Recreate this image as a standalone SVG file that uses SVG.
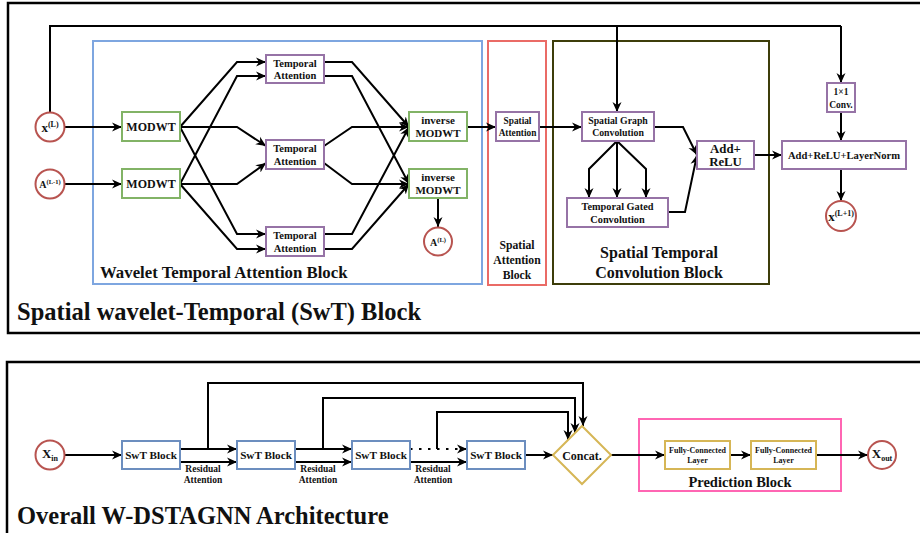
<svg xmlns="http://www.w3.org/2000/svg" width="920" height="533" viewBox="0 0 920 533">
<defs>
<marker id="arr" viewBox="0 0 10 10" markerWidth="10" markerHeight="10" refX="10" refY="5" orient="auto" markerUnits="userSpaceOnUse">
<path d="M0,0.5 L10,5 L0,9.5 L3,5 z" fill="#000"/>
</marker>
<style>
text{font-family:"Liberation Serif","Times New Roman",serif;font-weight:bold;fill:#111;text-anchor:middle}
.frame{fill:none;stroke:#000;stroke-width:2.5}
.c{fill:none;stroke:#000;stroke-width:2;marker-end:url(#arr)}
.cn{fill:none;stroke:#000;stroke-width:2}
.circ{fill:#fff;stroke:#b85450;stroke-width:2}
.green{fill:#fff;stroke:#82b366;stroke-width:2}
.purple{fill:#fff;stroke:#9673a6;stroke-width:2}
.blue{fill:#fff;stroke:#6c8ebf;stroke-width:2}
.gold{fill:#fff;stroke:#d6b656;stroke-width:2}
.title{font-size:24.5px;text-anchor:start}
</style>
</defs>
<rect width="920" height="533" fill="#fff"/>

<!-- panel frames -->
<rect class="frame" x="8" y="3" width="930" height="330"/>
<rect class="frame" x="7" y="362" width="930" height="200"/>

<!-- container blocks -->
<g id="wavelet-block">
<rect x="93" y="41" width="389" height="243" fill="none" stroke="#7ea6e0" stroke-width="2"/>
<text x="100" y="278" style="text-anchor:start;font-size:16.8px">Wavelet Temporal Attention Block</text>
</g>
<g id="spatial-attention-block">
<rect x="488" y="41" width="58" height="244" fill="none" stroke="#ea6b66" stroke-width="2"/>
<text x="517" y="249" font-size="11.7">Spatial</text>
<text x="517" y="264" font-size="11.7">Attention</text>
<text x="517" y="279" font-size="11.7">Block</text>
</g>
<g id="stconv-block">
<rect x="553" y="41" width="216" height="243" fill="none" stroke="#3d3d0a" stroke-width="2"/>
<text x="659" y="258" font-size="16">Spatial Temporal</text>
<text x="659" y="278" font-size="16">Convolution Block</text>
</g>
<g id="prediction-block">
<rect x="639" y="419" width="202" height="72" fill="none" stroke="#ff66b3" stroke-width="2"/>
<text x="740" y="487" font-size="14.5">Prediction Block</text>
</g>

<!-- connectors -->
<g id="connectors">
<!-- top panel -->
<polyline class="cn" points="50,113 50,26 841,26"/>
<polyline class="c" points="841,26 841,83"/>
<polyline class="c" points="617,26 617,112"/>
<line class="c" x1="65" y1="127" x2="122" y2="127"/>
<line class="c" x1="65" y1="184" x2="122" y2="184"/>
<!-- MODWT1 -->
<polyline class="c" points="180,127 237,62 266,62"/>
<polyline class="c" points="180,127 237,127 266,146"/>
<polyline class="c" points="180,127 237,234 266,234"/>
<!-- MODWT2 -->
<polyline class="c" points="180,184 237,76 266,76"/>
<polyline class="c" points="180,184 237,184 266,163"/>
<polyline class="c" points="180,184 237,249 266,249"/>
<!-- TA outputs -->
<polyline class="c" points="324,62 352,62 409,127"/>
<polyline class="c" points="324,76 352,76 409,184"/>
<polyline class="c" points="324,146 352,127 409,127"/>
<polyline class="c" points="324,163 352,184 409,184"/>
<polyline class="c" points="324,234 352,234 409,127"/>
<polyline class="c" points="324,249 352,249 409,184"/>
<line class="c" x1="438" y1="198" x2="438" y2="227"/>
<line class="c" x1="467" y1="127" x2="496" y2="127"/>
<line class="c" x1="539" y1="127" x2="582" y2="127"/>
<polyline class="c" points="617,141 589,169 589,198"/>
<line class="c" x1="617" y1="141" x2="617" y2="198"/>
<polyline class="c" points="617,141 646,169 646,198"/>
<polyline class="c" points="654,127 683,127 697,155"/>
<polyline class="c" points="668,212 685,212 697,155"/>
<line class="c" x1="754" y1="155" x2="782" y2="155"/>
<line class="c" x1="841" y1="112" x2="841" y2="141"/>
<line class="c" x1="841" y1="169" x2="841" y2="201"/>
<!-- bottom panel -->
<line class="c" x1="64" y1="455" x2="122" y2="455"/>
<line class="c" x1="180" y1="449" x2="237" y2="449"/>
<line class="c" x1="180" y1="462" x2="237" y2="462"/>
<line class="c" x1="295" y1="449" x2="352" y2="449"/>
<line class="c" x1="295" y1="462" x2="352" y2="462"/>
<line class="c" x1="410" y1="449" x2="467" y2="449" stroke-dasharray="2.5 6.5"/>
<line class="c" x1="410" y1="462" x2="467" y2="462"/>
<polyline class="c" points="208,449 208,383 583,383 583,426"/>
<polyline class="c" points="323,449 323,398 575,398 575,433"/>
<polyline class="c" points="437,449 437,412 568,412 568,440"/>
<line class="c" x1="525" y1="455" x2="553" y2="455"/>
<line class="c" x1="611" y1="455" x2="665" y2="455"/>
<line class="c" x1="730" y1="455" x2="751" y2="455"/>
<line class="c" x1="816" y1="455" x2="868" y2="455"/>
</g>

<!-- top panel nodes -->
<g id="xL"><circle class="circ" cx="50" cy="127" r="14.5"/><text x="50" y="132"><tspan font-size="13">x</tspan><tspan font-size="8" dy="-5">(L)</tspan></text></g>
<g id="AL1"><circle class="circ" cx="50" cy="184" r="14.5"/><text x="50" y="188"><tspan font-size="10">A</tspan><tspan font-size="6.5" dy="-4">(L-1)</tspan></text></g>
<g id="modwt1"><rect class="green" x="122" y="112" width="58" height="29"/><text x="151" y="131" font-size="12">MODWT</text></g>
<g id="modwt2"><rect class="green" x="122" y="169" width="58" height="29"/><text x="151" y="188" font-size="12">MODWT</text></g>
<g id="ta1"><rect class="purple" x="266" y="55" width="58" height="28"/><text x="295" y="66.5" font-size="10.5">Temporal</text><text x="295" y="79" font-size="10.5">Attention</text></g>
<g id="ta2"><rect class="purple" x="266" y="140" width="58" height="29"/><text x="295" y="152" font-size="10.5">Temporal</text><text x="295" y="164.5" font-size="10.5">Attention</text></g>
<g id="ta3"><rect class="purple" x="266" y="227" width="58" height="29"/><text x="295" y="239" font-size="10.5">Temporal</text><text x="295" y="251.5" font-size="10.5">Attention</text></g>
<g id="imodwt1"><rect class="green" x="409" y="112" width="58" height="29"/><text x="438" y="124" font-size="11">inverse</text><text x="438" y="137" font-size="11">MODWT</text></g>
<g id="imodwt2"><rect class="green" x="409" y="169" width="58" height="29"/><text x="438" y="181" font-size="11">inverse</text><text x="438" y="194" font-size="11">MODWT</text></g>
<g id="AL"><circle class="circ" cx="438" cy="241.5" r="14"/><text x="438" y="246"><tspan font-size="10">A</tspan><tspan font-size="6.5" dy="-4">(L)</tspan></text></g>
<g id="spatial-attention"><rect class="purple" x="496" y="112" width="43" height="29"/><text x="517.5" y="124" font-size="9.3">Spatial</text><text x="517.5" y="136" font-size="9.3">Attention</text></g>
<g id="sgc"><rect class="purple" x="582" y="112" width="72" height="29"/><text x="618" y="124" font-size="9.8">Spatial Graph</text><text x="618" y="136" font-size="9.8">Convolution</text></g>
<g id="tgc"><rect class="purple" x="567" y="198" width="101" height="29"/><text x="617.5" y="210" font-size="10.3">Temporal Gated</text><text x="617.5" y="223" font-size="10.3">Convolution</text></g>
<g id="add-relu"><rect class="purple" x="697" y="141" width="57" height="28"/><text x="725.5" y="153" font-size="12.8">Add+</text><text x="725.5" y="166" font-size="12.8">ReLU</text></g>
<g id="conv1x1"><rect class="purple" x="827" y="83" width="28" height="29"/><text x="841" y="95" font-size="9.5">1×1</text><text x="841" y="108" font-size="9.5">Conv.</text></g>
<g id="add-relu-ln"><rect class="purple" x="782" y="141" width="124" height="28"/><text x="844" y="158.5" font-size="10.6">Add+ReLU+LayerNorm</text></g>
<g id="xL1"><circle class="circ" cx="841" cy="216" r="15"/><text x="841" y="221"><tspan font-size="13">x</tspan><tspan font-size="8" dy="-5">(L+1)</tspan></text></g>
<text class="title" x="17" y="320">Spatial wavelet-Temporal (SwT) Block</text>

<!-- bottom panel nodes -->
<g id="xin"><circle class="circ" cx="50" cy="455" r="14.5"/><text x="50" y="458"><tspan font-size="13">X</tspan><tspan font-size="8" dy="3">in</tspan></text></g>
<g id="swt1"><rect class="blue" x="122" y="441" width="58" height="28"/><text x="151" y="459" font-size="11.2">SwT Block</text></g>
<g id="swt2"><rect class="blue" x="237" y="441" width="58" height="28"/><text x="266" y="459" font-size="11.2">SwT Block</text></g>
<g id="swt3"><rect class="blue" x="352" y="441" width="58" height="28"/><text x="381" y="459" font-size="11.2">SwT Block</text></g>
<g id="swt4"><rect class="blue" x="467" y="441" width="58" height="28"/><text x="496" y="459" font-size="11.2">SwT Block</text></g>
<g id="res1"><text x="203" y="472" font-size="9.5">Residual</text><text x="203" y="483" font-size="9.5">Attention</text></g>
<g id="res2"><text x="318" y="472" font-size="9.5">Residual</text><text x="318" y="483" font-size="9.5">Attention</text></g>
<g id="res3"><text x="433" y="472" font-size="9.5">Residual</text><text x="433" y="483" font-size="9.5">Attention</text></g>
<g id="concat"><polygon class="gold" points="553,455 582,426 611,455 582,484"/><text x="582" y="459.5" font-size="12">Concat.</text></g>
<g id="fc1"><rect class="gold" x="665" y="441" width="65" height="28"/><text x="697.5" y="452.5" font-size="8">Fully-Connected</text><text x="697.5" y="463" font-size="8">Layer</text></g>
<g id="fc2"><rect class="gold" x="751" y="441" width="65" height="28"/><text x="783.5" y="452.5" font-size="8">Fully-Connected</text><text x="783.5" y="463" font-size="8">Layer</text></g>
<g id="xout"><circle class="circ" cx="882" cy="455" r="14"/><text x="882" y="458"><tspan font-size="13">X</tspan><tspan font-size="8" dy="3">out</tspan></text></g>
<text class="title" x="17" y="524">Overall W-DSTAGNN Architecture</text>
</svg>
